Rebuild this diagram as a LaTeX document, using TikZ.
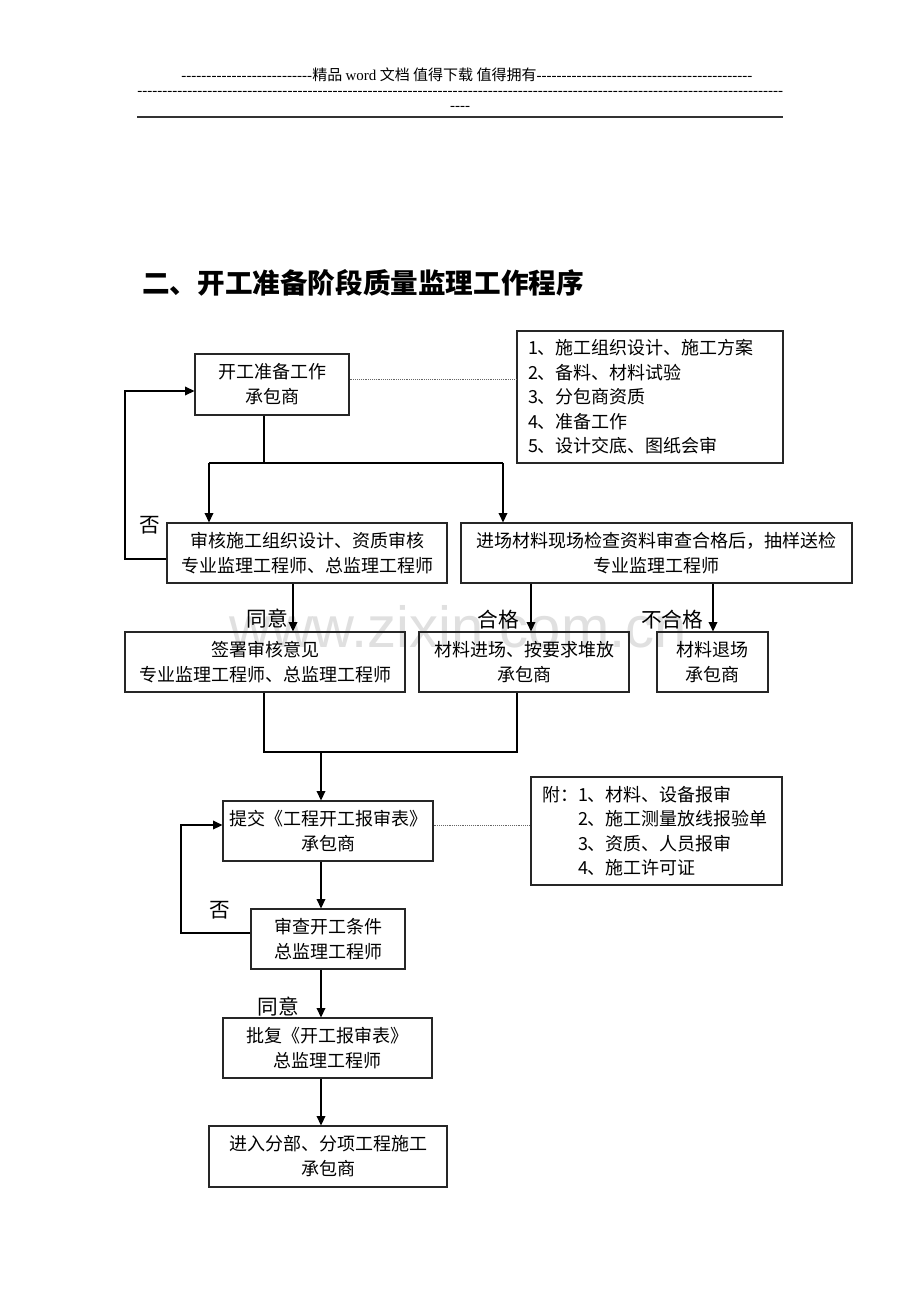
\documentclass[tikz,border=0pt]{standalone}
\usepackage{fontspec}
\setmainfont{Noto Sans CJK SC}
\newfontfamily\wmfont{Liberation Sans}
\newfontfamily\serifpart{Liberation Serif}
\usetikzlibrary{arrows.meta}
\tikzset{
  box/.style={draw=black!85, line width=0.9pt, align=center, inner sep=0pt,
    font=\fontsize{13.5pt}{18.75pt}\selectfont},
  notebox/.style={draw=black!85, line width=0.9pt, align=left, inner ysep=0pt, inner xsep=8.25pt,
    font=\fontsize{13.5pt}{18.4pt}\selectfont},
  conn/.style={line width=1.1pt, draw=black},
  arr/.style={conn, -{Triangle[length=7pt,width=6.5pt]}},
  dotline/.style={draw=black!60, line width=0.6pt, dash pattern=on 0.7pt off 0.7pt},
  lbl/.style={inner sep=0pt, font=\fontsize{15.5pt}{18pt}\selectfont},
}
\newcommand{\dashfill}[1]{\makebox[#1]{\xleaders\hbox{-}\hfill}}
\begin{document}
\begin{tikzpicture}[x=0.75pt,y=-0.75pt]
\fill[white] (0,0) rectangle (920,1302);
\useasboundingbox (0,0) rectangle (920,1302);

% watermark
\node[font=\wmfont\fontsize{43.5pt}{50pt}\selectfont, text=black!12, anchor=base, inner sep=0pt] (wm) at (458,647) {www.zixin.com.cn};

% header
\node[anchor=west, inner sep=0pt, font=\fontsize{11.25pt}{13pt}\selectfont] (hd1) at (181,75)
  {{\serifpart\dashfill{98.25pt}}精品 {\serifpart word} 文档 值得下载 值得拥有{\serifpart\dashfill{162pt}}};
\node[anchor=west, inner sep=0pt, font=\serifpart\fontsize{11.25pt}{13pt}\selectfont] (hd2) at (137,93) {\dashfill{484.5pt}};
\node[inner sep=0pt, font=\serifpart\fontsize{11.25pt}{13pt}\selectfont] (hd3) at (460,108) {----};
\coordinate (ruleL) at (137,117);
\coordinate (ruleR) at (783,117);
\draw[line width=1.6pt, black!80] (ruleL) -- (ruleR);

% title
\node[anchor=west, inner sep=0pt, font=\bfseries\fontsize{20.7pt}{24pt}\selectfont] (title) at (142,283)
  {二、开工准备阶段质量监理工作程序};

% boxes
\node[box, minimum width=115.5pt, minimum height=45.75pt] (B1) at (272,384.5) {开工准备工作\\承包商};
\node[notebox, text width=183pt, minimum height=99pt] (N1) at (650,397)
  {1、施工组织设计、施工方案\\2、备料、材料试验\\3、分包商资质\\4、准备工作\\5、设计交底、图纸会审};
\node[box, minimum width=210pt, minimum height=45pt] (B2) at (307,553) {审核施工组织设计、资质审核\\专业监理工程师、总监理工程师};
\node[box, minimum width=293.25pt, minimum height=45pt] (B3) at (656.5,553) {进场材料现场检查资料审查合格后，抽样送检\\专业监理工程师};
\node[box, minimum width=210pt, minimum height=45pt] (B4) at (265,662) {签署审核意见\\专业监理工程师、总监理工程师};
\node[box, minimum width=157.5pt, minimum height=45pt] (B5) at (524,662) {材料进场、按要求堆放\\承包商};
\node[box, minimum width=83.25pt, minimum height=45pt] (B6) at (712.5,662) {材料退场\\承包商};
\node[box, minimum width=157.5pt, minimum height=45pt] (B7) at (328,831) {提交《工程开工报审表》\\承包商};
\node[notebox, text width=171.75pt, minimum height=81pt] (N2) at (656.5,831)
  {附：1、材料、设备报审\\\phantom{附：}2、施工测量放线报验单\\\phantom{附：}3、资质、人员报审\\\phantom{附：}4、施工许可证};
\node[box, minimum width=115.5pt, minimum height=45pt] (B8) at (328,939) {审查开工条件\\总监理工程师};
\node[box, minimum width=156.75pt, minimum height=45pt] (B9) at (327.5,1048) {批复《开工报审表》\\总监理工程师};
\node[box, minimum width=178.5pt, minimum height=45.75pt] (B10) at (328,1156.5) {进入分部、分项工程施工\\承包商};

% labels
\node[lbl] (no1) at (150,525) {否};
\node[lbl] (ty1) at (267,619) {同意};
\node[lbl] (hg) at (498,620) {合格};
\node[lbl] (bhg) at (672,620) {不合格};
\node[lbl] (no2) at (220,910) {否};
\node[lbl] (ty2) at (278,1007) {同意};

% helper coordinates
\coordinate (j1) at (264,463);
\coordinate (jl) at (209,463);
\coordinate (jr) at (503,463);
\coordinate (fa) at (125,559);
\coordinate (fb) at (125,391);
\coordinate (x293) at (293,600);
\coordinate (x531) at (531,600);
\coordinate (x713) at (713,600);
\coordinate (m1) at (264,752);
\coordinate (m2) at (517,752);
\coordinate (m3) at (321,752);
\coordinate (ga) at (181,933);
\coordinate (gb) at (181,825);
\coordinate (d1) at (400,379);
\coordinate (d2) at (480,825);

% connectors
\draw[conn] (B1.south -| j1) -- (j1);
\draw[conn] (jl) -- (jr);
\draw[arr] (jl) -- (jl |- B2.north);
\draw[arr] (jr) -- (jr |- B3.north);
\draw[arr] (B2.west |- fa) -- (fa) -- (fb) -- (B1.west |- fb);
\draw[arr] (B2.south -| x293) -- (B4.north -| x293);
\draw[arr] (B3.south -| x531) -- (B5.north -| x531);
\draw[arr] (B3.south -| x713) -- (B6.north -| x713);
\draw[conn] (B4.south -| m1) -- (m1) -- (m2) -- (B5.south -| m2);
\draw[arr] (m3) -- (B7.north -| m3);
\draw[arr] (B7.south -| m3) -- (B8.north -| m3);
\draw[arr] (B8.south -| m3) -- (B9.north -| m3);
\draw[arr] (B9.south -| m3) -- (B10.north -| m3);
\draw[arr] (B8.west |- ga) -- (ga) -- (gb) -- (B7.west |- gb);
\draw[dotline] (B1.east |- d1) -- (N1.west |- d1);
\draw[dotline] (B7.east |- d2) -- (N2.west |- d2);
\end{tikzpicture}
\end{document}
